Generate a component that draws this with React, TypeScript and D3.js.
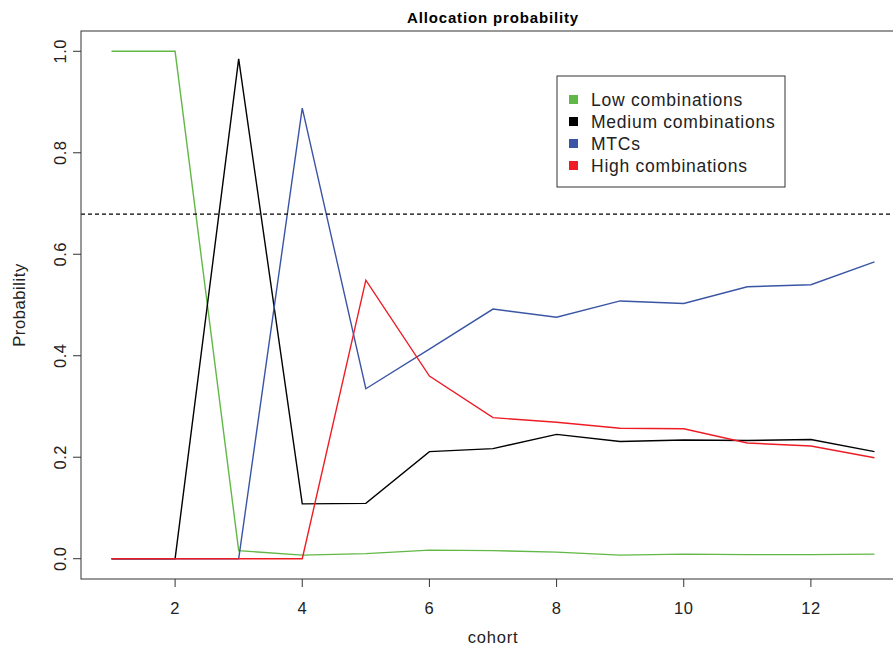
import React from "react";
import * as d3 from "d3";

const cohorts = [1, 2, 3, 4, 5, 6, 7, 8, 9, 10, 11, 12, 13];
const lowComb = [1.0, 1.0, 0.016, 0.007, 0.010, 0.017, 0.016, 0.013, 0.007, 0.009, 0.008, 0.008, 0.009];
const mediumComb = [0, 0, 0.985, 0.108, 0.109, 0.211, 0.217, 0.245, 0.231, 0.234, 0.233, 0.235, 0.211];
const mtcs = [0, 0, 0, 0.888, 0.335, 0.413, 0.492, 0.476, 0.508, 0.503, 0.536, 0.540, 0.585];
const highComb = [0, 0, 0, 0, 0.549, 0.360, 0.278, 0.269, 0.257, 0.256, 0.228, 0.222, 0.199];
const threshold = 0.679;
const xTicks = [2, 4, 6, 8, 10, 12];
const yTicks = [0, 0.2, 0.4, 0.6, 0.8, 1.0];

const seriesNames = ["Low combinations", "Medium combinations", "MTCs", "High combinations"];
const seriesValues = [lowComb, mediumComb, mtcs, highComb];
const seriesColors = ["#62b846", "#000000", "#3a55a5", "#ee1c25"];

const W = 893;
const H = 646;
const left = 81;
const right = 905;
const top = 31;
const bottom = 579;
const font = "'Liberation Sans', Arial, Helvetica, sans-serif";

export default function App() {
  const x = d3.scaleLinear().domain([0.52, 13.48]).range([left, right]);
  const y = d3.scaleLinear().domain([-0.04, 1.04]).range([bottom, top]);
  const line = d3
    .line<number>()
    .x((_, i) => x(cohorts[i]))
    .y((d) => y(d));

  return (
    <svg
      width={W}
      height={H}
      style={{ position: "absolute", left: 0, top: 0, background: "#fff" }}
      fontFamily={font}
    >
      <rect x={0} y={0} width={W} height={H} fill="#fff" />
      <text x={(left + right) / 2} y={23} textAnchor="middle" fontSize={15} fontWeight="bold" letterSpacing={0.85}>
        Allocation probability
      </text>

      {seriesValues.map((vals, k) => (
        <path key={k} d={line(vals) || ""} fill="none" stroke={seriesColors[k]} strokeWidth={1.4} />
      ))}

      <line
        x1={left}
        x2={right}
        y1={y(threshold)}
        y2={y(threshold)}
        stroke="#000"
        strokeWidth={1.3}
        strokeDasharray="4,3"
      />

      <rect x={left} y={top} width={right - left} height={bottom - top} fill="none" stroke="#333" strokeWidth={1} />

      {xTicks.map((t) => (
        <g key={t}>
          <line x1={x(t)} x2={x(t)} y1={bottom} y2={bottom + 8} stroke="#333" />
          <text x={x(t)} y={614} textAnchor="middle" fontSize={16.5} fill="#222" letterSpacing={0.5}>
            {t}
          </text>
        </g>
      ))}
      <text x={(left + right) / 2} y={643} textAnchor="middle" fontSize={16.5} fill="#222" letterSpacing={0.8}>
        cohort
      </text>

      {yTicks.map((t) => (
        <g key={t}>
          <line x1={left - 8} x2={left} y1={y(t)} y2={y(t)} stroke="#333" />
          <text
            transform={`translate(66,${y(t)}) rotate(-90)`}
            textAnchor="middle"
            fontSize={16.5}
            fill="#222"
            letterSpacing={0.5}
          >
            {t.toFixed(1)}
          </text>
        </g>
      ))}
      <text
        transform={`translate(25,${(top + bottom) / 2}) rotate(-90)`}
        textAnchor="middle"
        fontSize={16.5}
        fill="#222"
        letterSpacing={0.6}
      >
        Probability
      </text>

      <rect x={557} y={76} width={228} height={111} fill="#fff" stroke="#333" strokeWidth={1} />
      {seriesNames.map((name, k) => (
        <g key={name}>
          <rect x={569} y={95 + k * 22} width={9} height={9} fill={seriesColors[k]} />
          <text x={591} y={106 + k * 22} fontSize={17.5} fill="#222" letterSpacing={0.75}>
            {name}
          </text>
        </g>
      ))}
    </svg>
  );
}
